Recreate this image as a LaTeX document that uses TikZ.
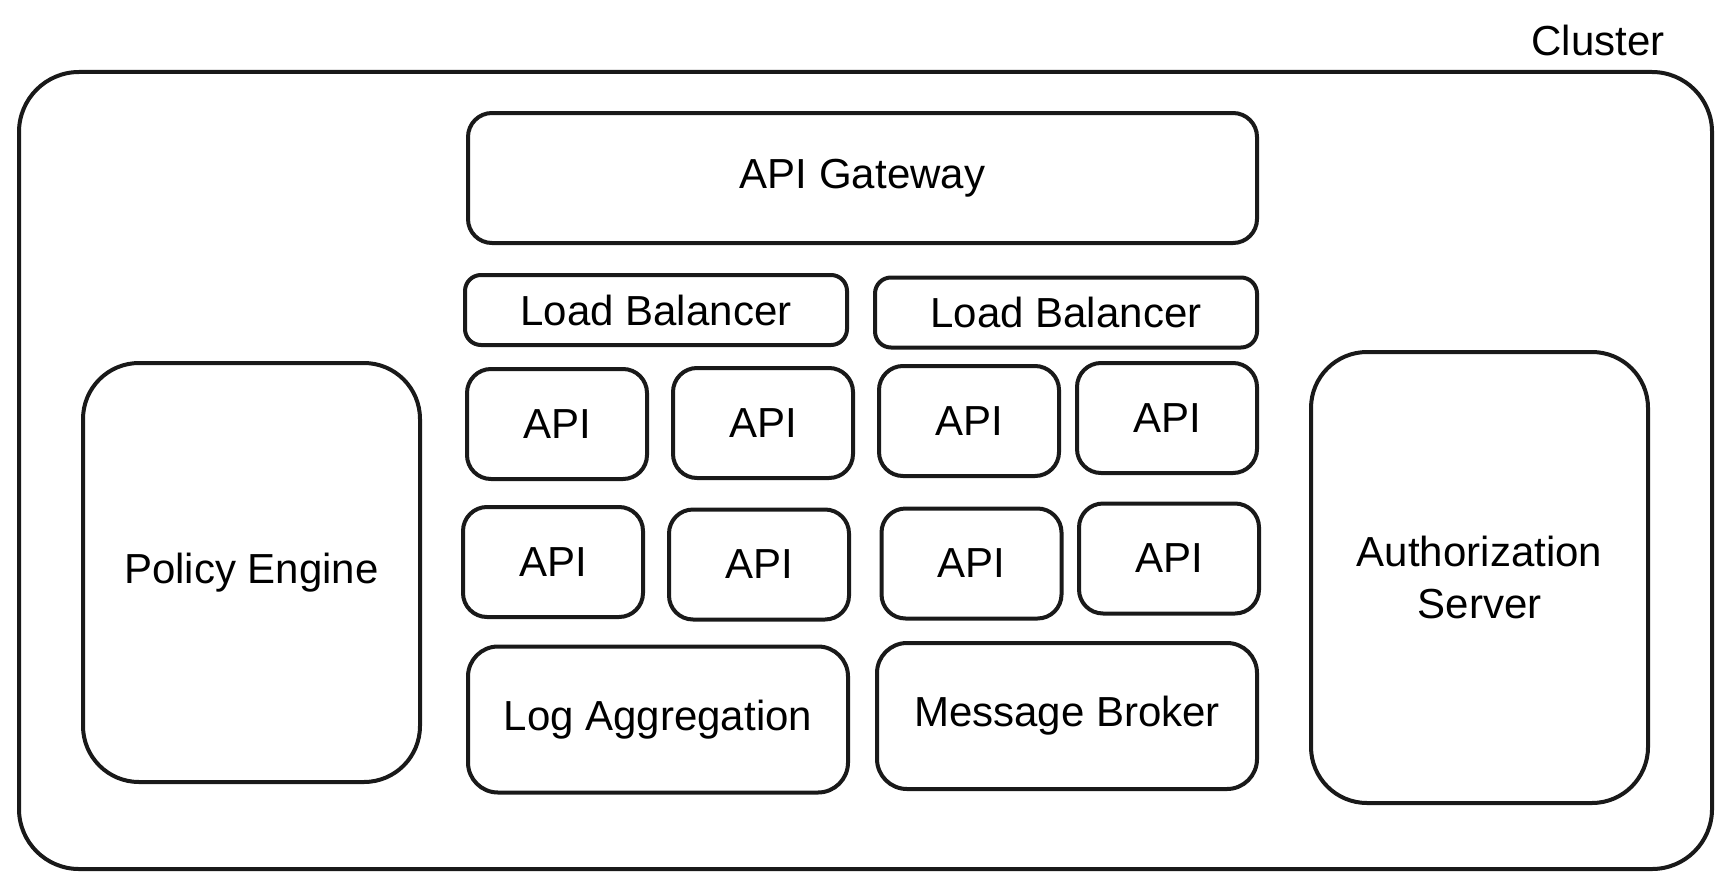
\documentclass[tikz,border=0pt]{standalone}
\usepackage{fontspec}
\setmainfont{Liberation Sans}
\begin{document}
\begin{tikzpicture}[x=0.5pt,y=-0.5pt,
  box/.style={draw=black!90, line width=2pt, rounded corners=12pt, inner sep=0pt, align=center, font=\fontsize{21}{26}\selectfont},
  apibox/.style={box, minimum width=90pt, minimum height=55pt},
  lbbox/.style={box, rounded corners=8pt, minimum width=191pt, minimum height=35pt},
  bigbox/.style={box, rounded corners=15pt, minimum width=190pt, minimum height=73pt},
  sidebox/.style={box, rounded corners=28pt, minimum width=168.5pt},
  lbl/.style={font=\fontsize{21}{26}\selectfont, inner sep=0pt}]
\useasboundingbox (0,0) rectangle (1732,888);
\node[box, rounded corners=30pt, minimum width=846.5pt, minimum height=398.5pt] (cluster) at (865.5,470.5) {};
\node[lbl] (clusterlbl) at (1598,40) {Cluster};
\node[box, minimum width=394.5pt, minimum height=65pt] (gw) at (862.5,178) {API Gateway};
\node[lbbox] (lb1) at (656,310) {Load Balancer};
\node[lbbox] (lb2) at (1066,312.5) {Load Balancer};
\node[apibox] (a11) at (557,424) {API};
\node[apibox] (a12) at (763,423) {API};
\node[apibox] (a13) at (969,421) {API};
\node[apibox] (a14) at (1167,418) {API};
\node[apibox] (a21) at (553,562) {API};
\node[apibox] (a22) at (759,564.5) {API};
\node[apibox] (a23) at (971.5,563.5) {API};
\node[apibox] (a24) at (1169,558.5) {API};
\node[bigbox] (log) at (658,719.5) {Log Aggregation};
\node[bigbox] (msg) at (1067,716) {Message Broker};
\node[sidebox, minimum height=209.5pt] (pol) at (251.5,572.5) {Policy Engine};
\node[sidebox, minimum height=225.5pt] (auth) at (1479.5,577.5) {Authorization\\Server};
\end{tikzpicture}
\end{document}
